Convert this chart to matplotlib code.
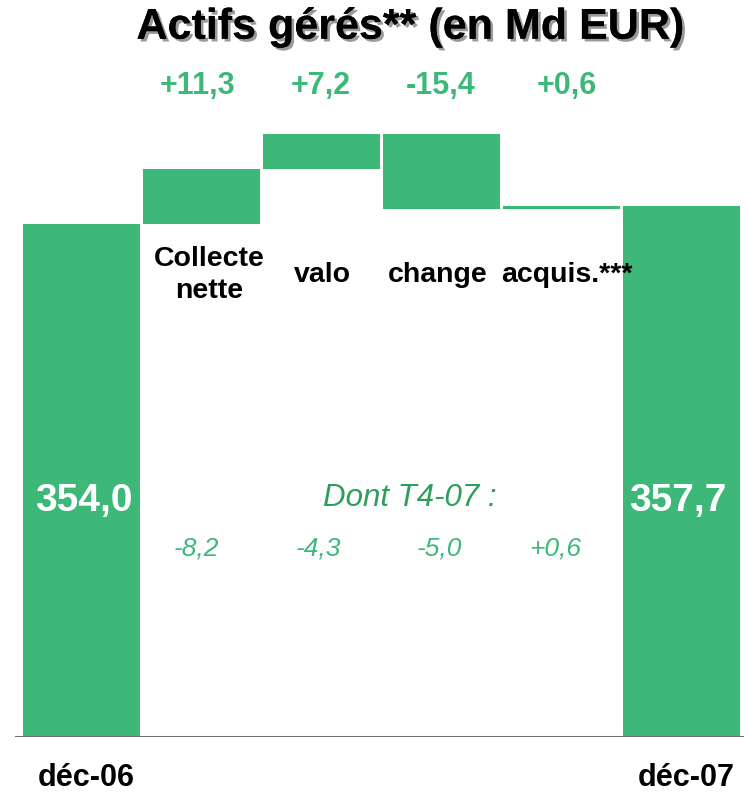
import matplotlib
matplotlib.use('Agg')
import matplotlib.pyplot as plt
import matplotlib.patheffects as pe
import numpy as np

plt.rcParams.update({'font.family': ['Liberation Sans', 'DejaVu Sans']})

# data (Md EUR)
categories = ['déc-06', 'Collecte\nnette', 'valo', 'change', 'acquis.***', 'déc-07']
start_val = 354.0
deltas = [11.3, 7.2, -15.4, 0.6]
end_val = 357.7
q4_deltas = [-8.2, -4.3, -5.0, 0.6]

green = '#3db879'
dark_green = '#2e9e5c'

def fr(v, sign=False):
    s = ('%+.1f' if sign else '%.1f') % v
    return s.replace('.', ',')

fig = plt.figure(figsize=(7.46, 7.94), dpi=100)
ax = fig.add_axes([15/746, 57/794, 729/746, 737/794])

x = np.arange(len(categories))
w = 0.975
# ends
ax.bar([x[0], x[-1]], [start_val, end_val], w, color=green, zorder=2)
# floating steps
levels = start_val + np.concatenate([[0], np.cumsum(deltas)])
bottoms = np.minimum(levels[:-1], levels[1:])
heights = np.abs(deltas)
ax.bar(x[1:-1], heights, w, bottom=bottoms, color=green, zorder=2)

ax.set_xlim(-0.55, 5.525)
ax.set_ylim(248.5, 400.1)
ax.axis('off')
ax.axhline(248.5, color='#6f6f6f', lw=2.2, zorder=3)

# title
ax.text(2.74, 394.4, 'Actifs gérés** (en Md EUR)', ha='center', va='center',
        fontsize=31, fontweight='bold', color='black',
        path_effects=[pe.withSimplePatchShadow(offset=(2, -2), shadow_rgbFace='#9a9a9a', alpha=1.0), pe.Normal()])

# variation labels
dx_delta = [-0.03, 0.0, 0.0, 0.05]
for i, d in enumerate(deltas):
    ax.text(x[i + 1] + dx_delta[i], 382.5, fr(d, True), ha='center', va='center',
            fontsize=22, fontweight='bold', color=green)

# category labels
cat_dx = [0.07, 0.01, -0.03, 0.05]
for i in range(1, 5):
    ax.text(x[i] + cat_dx[i - 1], 343.5, categories[i], ha='center', va='center',
            fontsize=20.5, fontweight='bold', color='black', linespacing=1.3)

# totals
ax.text(x[0] + 0.02, 297.1, fr(start_val), ha='center', va='center',
        fontsize=28, fontweight='bold', color='white')
ax.text(x[-1] - 0.03, 297.1, fr(end_val), ha='center', va='center',
        fontsize=28, fontweight='bold', color='white')

# Q4 breakdown
ax.text(2.74, 297.7, 'Dont T4-07 :', ha='center', va='center',
        fontsize=22.5, style='italic', color=dark_green)
q_dx = [-0.04, -0.02, -0.01, -0.05]
for i, d in enumerate(q4_deltas):
    s = fr(d, True) if d > 0 else fr(d)
    ax.text(x[i + 1] + q_dx[i], 287.3, s, ha='center', va='center',
            fontsize=19, style='italic', color=green)

# period labels
ax.text(x[0] + 0.04, 240.0, categories[0], ha='center', va='center',
        fontsize=22, fontweight='bold', color='black')
ax.text(x[-1] + 0.04, 240.0, categories[-1], ha='center', va='center',
        fontsize=22, fontweight='bold', color='black')

fig.savefig('out.png', dpi=100)
